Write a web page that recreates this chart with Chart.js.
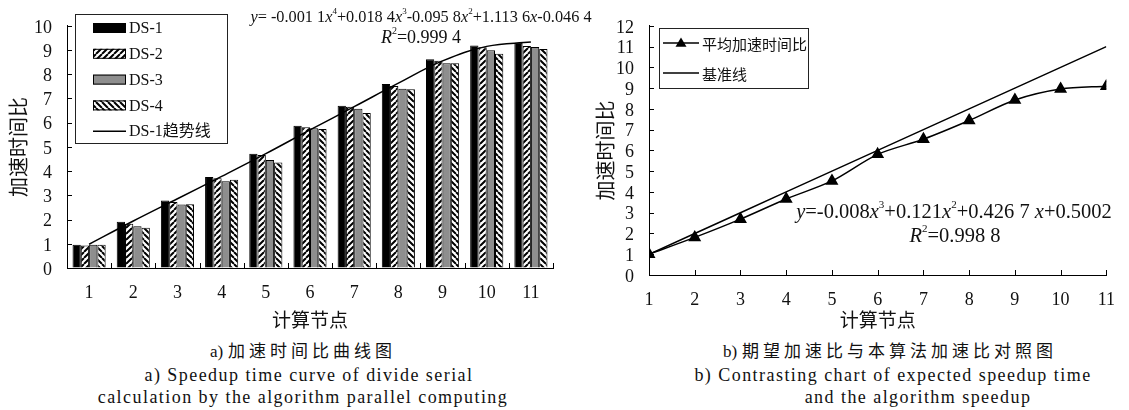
<!DOCTYPE html>
<html>
<head>
<meta charset="utf-8">
<script src="https://cdn.jsdelivr.net/npm/chart.js@4.4.1/dist/chart.umd.min.js"></script>
<style>
    body { margin: 0; background: #fff; width: 1129px; height: 410px; position: relative; overflow: hidden; }
    .box { position: absolute; top: 0; height: 331px; }
    .cap { position: absolute; transform: translateX(-50%); white-space: nowrap; color: #111;
           font-family: "Liberation Serif", "Noto Sans CJK SC", serif; line-height: 1; }
    .zh { font-size: 17px; letter-spacing: 4px; }
    .zh b { font-weight: normal; letter-spacing: 0; margin-right: 5px; }
    .en { font-size: 18px; letter-spacing: 1.45px; }
</style>
</head>
<body>
<div class="box" style="left:0;width:620px"><canvas id="speedup-chart"></canvas></div>
<div class="box" style="left:560px;width:569px"><canvas id="compare-chart"></canvas></div>

<div class="cap zh" style="left:303px;top:343px"><b>a)</b>加速时间比曲线图</div>
<div class="cap en" style="left:309px;top:366px">a) Speedup time curve of divide serial</div>
<div class="cap en" style="left:303px;top:388px">calculation by the algorithm parallel computing</div>
<div class="cap zh" style="left:890px;top:343px"><b>b)</b>期望加速比与本算法加速比对照图</div>
<div class="cap en" style="left:893px;top:366px">b) Contrasting chart of expected speedup time</div>
<div class="cap en" style="left:918px;top:388px">and the algorithm speedup</div>

<script>
// ---------------------------------------------------------------------------
// Data
// ---------------------------------------------------------------------------
const nodeLabels = ['1', '2', '3', '4', '5', '6', '7', '8', '9', '10', '11'];
const ds1 = [0.96, 1.91, 2.79, 3.76, 4.72, 5.87, 6.70, 7.60, 8.62, 9.19, 9.30];
const ds2 = [0.93, 1.83, 2.73, 3.71, 4.67, 5.81, 6.66, 7.51, 8.56, 9.11, 9.17];
const ds3 = [0.96, 1.72, 2.62, 3.58, 4.46, 5.77, 6.57, 7.40, 8.45, 8.99, 9.12];
const ds4 = [0.96, 1.66, 2.63, 3.64, 4.36, 5.74, 6.40, 7.38, 8.45, 8.85, 9.04];
const ds1Trend = [0.98, 1.94, 2.86, 3.78, 4.72, 5.70, 6.66, 7.63, 8.55, 9.15, 9.33];

const nodes = [1, 2, 3, 4, 5, 6, 7, 8, 9, 10, 11];
const avgSpeedup = [1.00, 1.81, 2.69, 3.66, 4.53, 5.81, 6.54, 7.44, 8.43, 8.96, 9.09];
const baseline = [1, 2, 3, 4, 5, 6, 7, 8, 9, 10, 11];

const leftLegend = ['DS-1', 'DS-2', 'DS-3', 'DS-4', 'DS-1趋势线'];
const rightLegend = ['平均加速时间比', '基准线'];
const yTitle = '加速时间比';
const xTitle = '计算节点';

// equations as [text, style]: i = italic, s = superscript
const leftEquation = [['y', 'i'], ['= -0.001 1'], ['x', 'i'], ['4', 's'], ['+0.018 4'], ['x', 'i'], ['3', 's'],
    ['-0.095 8'], ['x', 'i'], ['2', 's'], ['+1.113 6'], ['x', 'i'], ['-0.046 4']];
const leftR2 = [['R', 'i'], ['2', 's'], ['=0.999 4']];
const rightEquation = [['y', 'i'], ['=-0.008'], ['x', 'i'], ['3', 's'], ['+0.121'], ['x', 'i'], ['2', 's'],
    ['+0.426 7 '], ['x', 'i'], ['+0.5002']];
const rightR2 = [['R', 'i'], ['2', 's'], ['=0.998 8']];

// ---------------------------------------------------------------------------
// Helpers
// ---------------------------------------------------------------------------
const SERIF = "'Liberation Serif', serif";
const CJK = "'Noto Sans CJK SC', sans-serif";
const INK = '#111';

function makeHatch(dir) {
    const c = document.createElement('canvas');
    c.width = c.height = 6;
    const g = c.getContext('2d');
    g.fillStyle = '#fff';
    g.fillRect(0, 0, 6, 6);
    g.strokeStyle = '#000';
    g.lineWidth = 2;
    g.beginPath();
    for (let o = -6; o <= 6; o += 6) {
        if (dir === '/') { g.moveTo(o, 6); g.lineTo(o + 6, 0); }
        else { g.moveTo(o, 0); g.lineTo(o + 6, 6); }
    }
    g.stroke();
    return g.createPattern(c, 'repeat');
}

function richFont(style, size) {
    if (style === 'i') return `italic ${size}px ${SERIF}`;
    if (style === 's') return `${Math.round(size * 0.55)}px ${SERIF}`;
    return `${size}px ${SERIF}`;
}

function drawRich(ctx, parts, cx, cy, size) {
    let w = 0;
    parts.forEach(p => { ctx.font = richFont(p[1], size); w += ctx.measureText(p[0]).width; });
    let x = cx - w / 2;
    ctx.textBaseline = 'middle';
    ctx.textAlign = 'left';
    ctx.fillStyle = INK;
    parts.forEach(p => {
        ctx.font = richFont(p[1], size);
        ctx.fillText(p[0], x, p[1] === 's' ? cy - size * 0.38 : cy);
        x += ctx.measureText(p[0]).width;
    });
}

function axisFonts(size, family) {
    return { family, size };
}

// inward tick marks drawn with the chart's own scales
const innerTicks = {
    id: 'innerTicks',
    afterDatasetsDraw(chart, args, opts) {
        const { ctx, chartArea: a, scales: { x, y } } = chart;
        const len = opts.length || 5;
        ctx.save();
        ctx.strokeStyle = '#000';
        ctx.lineWidth = 1;
        ctx.beginPath();
        y.ticks.forEach(t => {
            const py = Math.round(y.getPixelForValue(t.value)) + 0.5;
            ctx.moveTo(a.left, py); ctx.lineTo(a.left + len, py);
        });
        if (x.type === 'category') {
            const half = (x.getPixelForValue(1) - x.getPixelForValue(0)) / 2;
            for (let i = 0; i <= x.ticks.length; i++) {
                const px = Math.round(x.getPixelForValue(i) - half) + 0.5;
                ctx.moveTo(px, a.bottom); ctx.lineTo(px, a.bottom - len);
            }
        } else {
            x.ticks.forEach(t => {
                const px = Math.round(x.getPixelForValue(t.value)) + 0.5;
                ctx.moveTo(px, a.bottom); ctx.lineTo(px, a.bottom - len);
            });
        }
        ctx.stroke();
        ctx.restore();
    },
};

const boxLegend = {
    id: 'boxLegend',
    afterDraw(chart, args, o) {
        const ctx = chart.ctx;
        ctx.save();
        ctx.fillStyle = '#fff';
        ctx.fillRect(o.x, o.y, o.w, o.h);
        ctx.strokeStyle = '#222';
        ctx.lineWidth = 1;
        ctx.strokeRect(o.x + 0.5, o.y + 0.5, o.w, o.h);
        chart.data.datasets.forEach((ds, i) => {
            const cy = o.y + o.first + i * o.step;
            const sx = o.x + o.sample[0], ex = o.x + o.sample[1];
            if (ds.type === 'line' || chart.config.type === 'line') {
                ctx.strokeStyle = '#000';
                ctx.lineWidth = 1.5;
                ctx.beginPath(); ctx.moveTo(sx, cy); ctx.lineTo(ex, cy); ctx.stroke();
                if (ds.pointStyle === 'triangle') {
                    const m = (sx + ex) / 2, r = 5.5;
                    ctx.fillStyle = '#000';
                    ctx.beginPath();
                    ctx.moveTo(m, cy - r); ctx.lineTo(m + r, cy + r * 0.7); ctx.lineTo(m - r, cy + r * 0.7);
                    ctx.closePath(); ctx.fill();
                }
            } else {
                ctx.fillStyle = ds.backgroundColor;
                ctx.fillRect(sx, cy - 5, ex - sx, 10);
                ctx.strokeStyle = '#000';
                ctx.lineWidth = 1;
                ctx.strokeRect(sx + 0.5, cy - 4.5, ex - sx - 1, 9);
            }
            ctx.fillStyle = INK;
            ctx.textBaseline = 'middle';
            ctx.textAlign = 'left';
            ctx.font = o.font;
            ctx.fillText(o.labels[i], ex + 3, cy + 1);
        });
        (o.texts || []).forEach(t => drawRich(ctx, t.parts, t.x, t.y, t.size));
        ctx.restore();
    },
};

Chart.defaults.color = INK;
Chart.defaults.animation = false;
Chart.defaults.plugins.legend.display = false;
Chart.defaults.plugins.tooltip.enabled = false;

function yAxis(max, width, titlePad) {
    return {
        min: 0, max,
        ticks: { stepSize: 1, autoSkip: false, padding: 15, labelOffset: 2, font: axisFonts(18, SERIF), color: INK },
        grid: { drawOnChartArea: false, drawTicks: false },
        border: { color: '#000', width: 1 },
        title: { display: true, text: yTitle, font: axisFonts(20, CJK), color: INK, padding: { top: titlePad, bottom: 0 } },
        afterFit: s => { s.width = width; },
    };
}

function xAxisBase(height) {
    return {
        ticks: { padding: 14, font: axisFonts(18, SERIF), color: INK, maxRotation: 0, autoSkip: false },
        grid: { drawOnChartArea: false, drawTicks: false },
        border: { color: '#000', width: 1 },
        title: { display: true, text: xTitle, font: axisFonts(19, CJK), color: INK, padding: { top: 0, bottom: 0 } },
        afterFit: s => { s.height = height; },
    };
}

// ---------------------------------------------------------------------------
// a) speedup bars per data set
// ---------------------------------------------------------------------------
function barSet(label, data, fill) {
    return { label, data, backgroundColor: fill, borderColor: '#000', borderWidth: 1, order: 1 };
}

new Chart(document.getElementById('speedup-chart'), {
    type: 'bar',
    data: {
        labels: nodeLabels,
        datasets: [
            barSet('DS-1', ds1, '#000'),
            barSet('DS-2', ds2, makeHatch('/')),
            barSet('DS-3', ds3, '#8e8e8e'),
            barSet('DS-4', ds4, makeHatch('\\')),
            {
                type: 'line', label: 'DS-1趋势线', data: ds1Trend, borderColor: '#000', borderWidth: 1.5,
                pointRadius: 0, tension: 0.4, order: 0,
            },
        ],
    },
    options: {
        responsive: true,
        maintainAspectRatio: false,
        layout: { padding: { left: 0, top: 14, right: 67, bottom: 0 } },
        datasets: { bar: { categoryPercentage: 0.75, barPercentage: 1.0 } },
        scales: { x: xAxisBase(63), y: yAxis(10, 67, 6) },
        plugins: {
            innerTicks: { length: 5 },
            boxLegend: {
                x: 75, y: 14, w: 152, h: 129, first: 14, step: 25.8, sample: [18, 51],
                labels: leftLegend, font: `16px ${SERIF}, ${CJK}`,
                texts: [
                    { parts: leftEquation, x: 421, y: 18, size: 16.3 },
                    { parts: leftR2, x: 421, y: 38, size: 18 },
                ],
            },
        },
    },
    plugins: [innerTicks, boxLegend],
});

// ---------------------------------------------------------------------------
// b) expected vs measured speedup
// ---------------------------------------------------------------------------
new Chart(document.getElementById('compare-chart'), {
    type: 'line',
    data: {
        datasets: [
            {
                label: rightLegend[0],
                data: nodes.map((n, i) => ({ x: n, y: avgSpeedup[i] })),
                borderColor: '#000', backgroundColor: '#000', borderWidth: 1.5,
                pointStyle: 'triangle', pointRadius: 6, tension: 0.3,
            },
            {
                label: rightLegend[1],
                data: nodes.map((n, i) => ({ x: n, y: baseline[i] })),
                borderColor: '#000', borderWidth: 1.5, pointRadius: 0,
            },
        ],
    },
    options: {
        responsive: true,
        maintainAspectRatio: false,
        layout: { padding: { left: 0, top: 25, right: 19, bottom: 0 } },
        scales: {
            x: Object.assign(xAxisBase(56), { type: 'linear', min: 1, max: 11 }),
            y: yAxis(12, 89, 33),
        },
        plugins: {
            innerTicks: { length: 5 },
            boxLegend: {
                x: 99, y: 28, w: 149, h: 60, first: 15, step: 30, sample: [4, 40],
                labels: rightLegend, font: `15px ${CJK}`,
                texts: [
                    { parts: rightEquation, x: 394, y: 213, size: 20.5 },
                    { parts: rightR2, x: 395, y: 237, size: 20.5 },
                ],
            },
        },
    },
    plugins: [innerTicks, boxLegend],
});
</script>
</body>
</html>
